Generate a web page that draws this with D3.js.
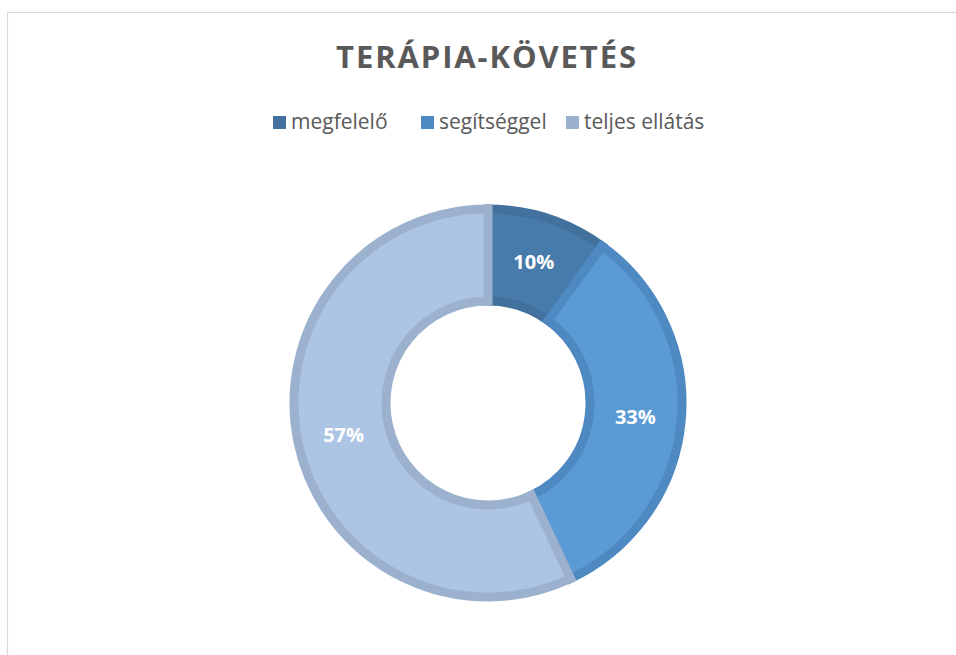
<!DOCTYPE html>
<html>
<head>
<meta charset="utf-8">
<script src="https://cdn.jsdelivr.net/npm/d3@7"></script>
<style>
  body { margin: 0; background: #fff; }
  svg { display: block; }
</style>
</head>
<body>
<div id="graf"></div>
<script>
// datos del gráfico
const categorias = ["megfelelő", "segítséggel", "teljes ellátás"];
const valores = [10, 33, 57];
const etiquetas = ["10%", "33%", "57%"];
const rellenos = ["#477bac", "#5b9bd5", "#adc5e4"];
const bordes = ["#41719c", "#4e89c2", "#9cb1cd"];

const ancho = 956, alto = 655;
const centro = { x: 488, y: 403 };
const rExt = 194, rInt = 102;

const svg = d3.select("#graf").append("svg")
  .attr("width", ancho).attr("height", alto);

// marco del gráfico
svg.append("rect")
  .attr("x", 7.5).attr("y", 12.5)
  .attr("width", ancho + 20).attr("height", alto + 20)
  .attr("fill", "none").attr("stroke", "#d9d9d9").attr("stroke-width", 1.2);

// título
svg.append("text")
  .attr("x", 487).attr("y", 68)
  .attr("text-anchor", "middle")
  .attr("font-family", "'Open Sans', sans-serif")
  .attr("font-weight", "bold")
  .attr("font-size", 31)
  .attr("letter-spacing", 1.9)
  .attr("fill", "#595959")
  .text("TERÁPIA-KÖVETÉS");

// leyenda
const leyenda = svg.append("g").attr("transform", "translate(0,122)");
const xs = [273, 421, 566];
categorias.forEach((c, i) => {
  const g = leyenda.append("g").attr("transform", `translate(${xs[i]},0)`);
  g.append("rect").attr("x", 0).attr("y", -6).attr("width", 13).attr("height", 13)
    .attr("fill", bordes[i]);
  g.append("text").attr("x", 18).attr("y", 7)
    .attr("font-family", "'Open Sans', sans-serif")
    .attr("font-size", 21)
    .attr("fill", "#595959")
    .text(c);
});

// dona
const pie = d3.pie().sort(null).value(d => d);
const arco = d3.arc().innerRadius(rInt).outerRadius(rExt);
const arcoEtiqueta = d3.arc().innerRadius(148).outerRadius(148);

const g = svg.append("g").attr("transform", `translate(${centro.x},${centro.y})`);
const arcos = pie(valores);

g.selectAll("path")
  .data(arcos)
  .enter()
  .append("path")
  .attr("d", arco)
  .attr("fill", (d, i) => rellenos[i])
  .attr("stroke", (d, i) => bordes[i])
  .attr("stroke-width", 9)
  .attr("stroke-linejoin", "miter");

g.selectAll("text")
  .data(arcos)
  .enter()
  .append("text")
  .attr("transform", d => `translate(${arcoEtiqueta.centroid(d)})`)
  .attr("text-anchor", "middle")
  .attr("dy", "0.35em")
  .attr("font-family", "'Open Sans', sans-serif")
  .attr("font-weight", "bold")
  .attr("font-size", 20)
  .attr("fill", "#fff")
  .text((d, i) => etiquetas[i]);
</script>
</body>
</html>
